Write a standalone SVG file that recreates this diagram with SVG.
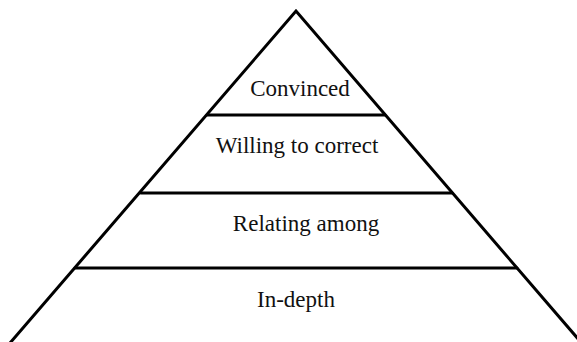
<svg xmlns="http://www.w3.org/2000/svg" width="577" height="342" viewBox="0 0 577 342">
<style>
.ln{stroke:#000;stroke-width:3;fill:none;stroke-linecap:round}
.lb{font-family:"Liberation Serif","Times New Roman",serif;font-size:23px;fill:#111;text-anchor:middle}
</style>
<rect width="577" height="342" fill="#fff"/>
<g id="connectors">
<path class="ln" d="M10 343 L296 11 L579 340"/>
</g>
<g id="level-convinced">
<line class="ln" x1="207" y1="115" x2="385" y2="115"/>
<text class="lb" x="300" y="96">Convinced</text>
</g>
<g id="level-willing">
<line class="ln" x1="141" y1="193" x2="452" y2="193"/>
<text class="lb" x="297" y="153">Willing to correct</text>
</g>
<g id="level-relating">
<line class="ln" x1="75" y1="268" x2="517" y2="268"/>
<text class="lb" x="306" y="231">Relating among</text>
</g>
<g id="level-indepth">
<text class="lb" x="296" y="307">In-depth</text>
</g>
</svg>
